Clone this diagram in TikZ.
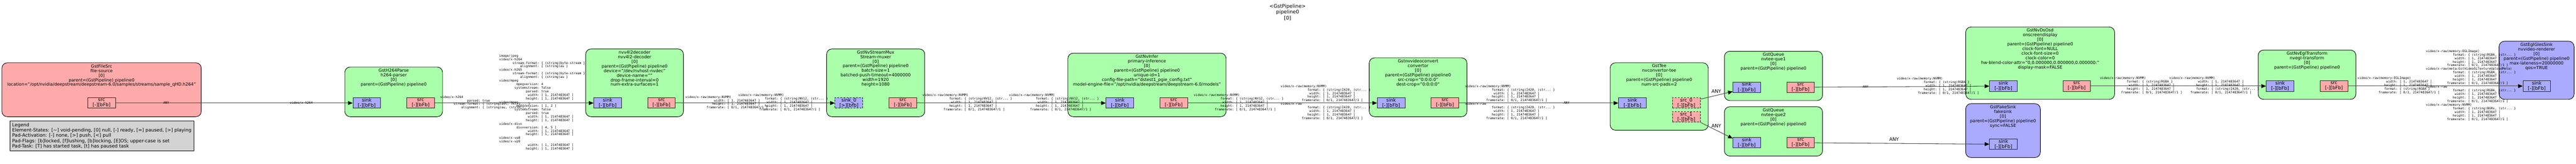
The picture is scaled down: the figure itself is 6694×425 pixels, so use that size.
\documentclass[tikz,border=0pt]{standalone}
\usepackage{fontspec}
\setmainfont{DejaVu Sans}
\setmonofont{DejaVu Sans Mono}
\usetikzlibrary{positioning,arrows.meta,calc}

\definecolor{elemgreen}{HTML}{AAFFAA}
\definecolor{elemred}{HTML}{FFAAAA}
\definecolor{elemblue}{HTML}{AAAAFF}
\definecolor{legendgrey}{HTML}{D3D3D3}

\newcommand\capk[2]{\hphantom{xxxxxxxxxxxxxxxxxxxx}\llap{#1}: #2}
\newcommand\capfmt[1]{\capk{format}{\{ (string)#1, (str... \}}}
\newcommand\capwh{\capk{width}{[ 1, 2147483647 ]}\\\capk{height}{[ 1, 2147483647 ]}}
\newcommand\capfr{\capk{framerate}{[ 0/1, 2147483647/1 ]}}
\newcommand\nvmm{video/x-raw(memory:NVMM)}

\begin{document}
\begin{tikzpicture}[x=1pt,y=-1pt,
  elem/.style={draw, line width=1.2pt, rounded corners=14pt, fill=elemgreen},
  elemtitle/.style={align=center, inner sep=0pt, font=\fontsize{11.1}{12}\selectfont},
  padbox/.style={draw=black!85, line width=1.2pt, minimum width=72pt, minimum height=27pt, inner sep=0pt, align=center, font=\fontsize{12.3}{13.6}\selectfont},
  sinkpad/.style={padbox, fill=elemblue},
  srcpad/.style={padbox, fill=elemred},
  reqpad/.style={dash pattern=on 5pt off 3pt},
  link/.style={draw=black!70, line width=1.4pt, -{Triangle[length=12pt,width=10pt,color=black]}},
  capstext/.style={anchor=north west, align=left, inner sep=0pt, font=\ttfamily\fontsize{8.25}{9.3}\selectfont},
  capsany/.style={inner sep=0pt, font=\ttfamily\fontsize{8.25}{9.3}\selectfont},
  linkany/.style={inner sep=0pt, font=\fontsize{12.3}{14}\selectfont}]
\useasboundingbox (0,0) rectangle (6694,425);

\node[align=center, inner sep=0pt, font=\fontsize{13}{15}\selectfont] (pipe) at (3346,32) {<GstPipeline>\\pipeline0\\{}[0]};

\node[elem, fill=elemred, minimum width=518pt, minimum height=140pt] (e1) at (264,233) {};
\node[elemtitle, below=4.5pt of e1.north] (e1t) {GstFileSrc\\file-source\\{}[0]\\parent=(GstPipeline) pipeline0\\location="/opt/nvidia/deepstream/deepstream-6.0/samples/streams/sample\_qHD.h264"};
\node[srcpad] (e1src) at (264,267.5) {src\\{}[-][bFb]};

\node[draw, line width=1.2pt, fill=legendgrey, anchor=north west, minimum width=478pt, minimum height=78pt, inner sep=5pt, align=left, font=\fontsize{12.1}{13.7}\selectfont] (legend) at (25,313) {Legend\\Element-States: [\textasciitilde] void-pending, [0] null, [-] ready, [=] paused, [>] playing\\Pad-Activation: [-] none, [>] push, [<] pull\\Pad-Flags: [b]locked, [f]lushing, [b]locking, [E]OS; upper-case is set\\Pad-Task: [T] has started task, [t] has paused task};

\node[elem, minimum width=254pt, minimum height=129pt] (e2) at (1023,238.5) {};
\node[elemtitle, below=4.5pt of e2.north] (e2t) {GstH264Parse\\h264-parser\\{}[0]\\parent=(GstPipeline) pipeline0};
\node[sinkpad] (e2sink) at (953,267.5) {sink\\{}[-][bFb]};
\node[srcpad] (e2src) at (1093,267.5) {src\\{}[-][bFb]};

\node[elem, minimum width=254pt, minimum height=176pt] (e3) at (1649,215) {};
\node[elemtitle, below=4.5pt of e3.north] (e3t) {nvv4l2decoder\\nvv4l2-decoder\\{}[0]\\parent=(GstPipeline) pipeline0\\device="/dev/nvhost-nvdec"\\device-name=""\\drop-frame-interval=0\\num-extra-surfaces=1};
\node[sinkpad] (e3sink) at (1579,267.5) {sink\\{}[-][bFb]};
\node[srcpad] (e3src) at (1719,267.5) {src\\{}[-][bFb]};

\node[elem, minimum width=255pt, minimum height=176pt] (e4) at (2275.5,215) {};
\node[elemtitle, below=4.5pt of e4.north] (e4t) {GstNvStreamMux\\Stream-muxer\\{}[0]\\parent=(GstPipeline) pipeline0\\batch-size=1\\batched-push-timeout=4000000\\width=1920\\height=1080};
\node[sinkpad, reqpad] (e4sink) at (2206,267.5) {sink\_0\\{}[>][bfb]};
\node[srcpad] (e4src) at (2346,267.5) {src\\{}[-][bFb]};

\node[elem, minimum width=411pt, minimum height=165pt] (e5) at (2980.5,220.5) {};
\node[elemtitle, below=4.5pt of e5.north] (e5t) {GstNvInfer\\primary-inference\\{}[0]\\parent=(GstPipeline) pipeline0\\unique-id=1\\config-file-path="dstest1\_pgie\_config.txt"\\model-engine-file="/opt/nvidia/deepstream/deepstream-6.0/models"};
\node[sinkpad] (e5sink) at (2910,267.5) {sink\\{}[-][bFb]};
\node[srcpad] (e5src) at (3050,267.5) {src\\{}[-][bFb]};

\node[elem, minimum width=254pt, minimum height=153pt] (e6) at (3685,226.5) {};
\node[elemtitle, below=4.5pt of e6.north] (e6t) {Gstnvvideoconvert\\convertor\\{}[0]\\parent=(GstPipeline) pipeline0\\src-crop="0:0:0:0"\\dest-crop="0:0:0:0"};
\node[sinkpad] (e6sink) at (3615,267.5) {sink\\{}[-][bFb]};
\node[srcpad] (e6src) at (3755,267.5) {src\\{}[-][bFb]};

\node[elem, minimum width=255pt, minimum height=175pt] (e7) at (4311.5,250.5) {};
\node[elemtitle, below=4.5pt of e7.north] (e7t) {GstTee\\nvconvertor-tee\\{}[0]\\parent=(GstPipeline) pipeline0\\num-src-pads=2};
\node[sinkpad] (e7sink) at (4242,267.5) {sink\\{}[-][bFb]};
\node[srcpad, reqpad] (e7src0) at (4382,267.5) {src\_0\\{}[-][bFb]};
\node[srcpad, reqpad] (e7src1) at (4382,303.5) {src\_1\\{}[-][bFb]};

\node[elem, minimum width=255pt, minimum height=128pt] (e8) at (4608.5,197) {};
\node[elemtitle, below=4.5pt of e8.north] (e8t) {GstQueue\\nvtee-que1\\{}[0]\\parent=(GstPipeline) pipeline0};
\node[sinkpad] (e8sink) at (4539,226.5) {sink\\{}[-][bFb]};
\node[srcpad] (e8src) at (4679,226.5) {src\\{}[-][bFb]};

\node[elem, minimum width=255pt, minimum height=128pt] (e9) at (4608.5,341) {};
\node[elemtitle, below=4.5pt of e9.north] (e9t) {GstQueue\\nvtee-que2\\{}[0]\\parent=(GstPipeline) pipeline0};
\node[sinkpad] (e9sink) at (4539,370.5) {sink\\{}[-][bFb]};
\node[srcpad] (e9src) at (4679,370.5) {src\\{}[-][bFb]};

\node[elem, minimum width=387pt, minimum height=188pt] (e10) at (5301.5,164) {};
\node[elemtitle, below=4.5pt of e10.north] (e10t) {GstNvDsOsd\\onscreendisplay\\{}[0]\\parent=(GstPipeline) pipeline0\\clock-font=NULL\\clock-font-size=0\\clock-color=0\\hw-blend-color-attr="0,0.000000,0.000000,0.000000:"\\display-mask=FALSE};
\node[sinkpad] (e10sink) at (5206,223.5) {sink\\{}[-][bFb]};
\node[srcpad] (e10src) at (5396.5,223.5) {src\\{}[-][bFb]};

\node[elem, fill=elemblue, minimum width=194pt, minimum height=140pt] (e11) at (5205,339) {};
\node[elemtitle, below=4.5pt of e11.north] (e11t) {GstFakeSink\\fakesink\\{}[0]\\parent=(GstPipeline) pipeline0\\sync=FALSE};
\node[sinkpad] (e11sink) at (5206,374.5) {sink\\{}[-][bFb]};

\node[elem, minimum width=254pt, minimum height=128pt] (e12) at (5995,194) {};
\node[elemtitle, below=4.5pt of e12.north] (e12t) {GstNvEglTransform\\nvegl-transform\\{}[0]\\parent=(GstPipeline) pipeline0};
\node[sinkpad] (e12sink) at (5925,223.5) {sink\\{}[-][bFb]};
\node[srcpad] (e12src) at (6065,223.5) {src\\{}[-][bFb]};

\node[elem, fill=elemblue, minimum width=195pt, minimum height=151pt] (e13) at (6591.5,182.5) {};
\node[elemtitle, below=4.5pt of e13.north] (e13t) {GstEglGlesSink\\nvvideo-renderer\\{}[0]\\parent=(GstPipeline) pipeline0\\max-lateness=20000000\\qos=TRUE};
\node[sinkpad] (e13sink) at (6592,223.5) {sink\\{}[-][bFb]};

\path[link] (e1src) -- (e2sink);
\path[link] (e2src) -- (e3sink);
\path[link] (e3src) -- (e4sink);
\path[link] (e4src) -- (e5sink);
\path[link] (e5src) -- (e6sink);
\path[link] (e6src) -- (e7sink);
\path[link] ($(e7src0.north east)+(0,4)$) -- ($(e8sink.south west)+(0,-3)$);
\path[link] (e7src1.south east) -- ($(e9sink.north west)+(0,3)$);
\path[link] (e8src) -- (e10sink);
\path[link] (e9src) -- (e11sink);
\path[link] (e10src) -- (e12sink);
\path[link] (e12src) -- (e13sink);

\node[capsany] (l1a) at (432,267) {ANY};
\node[capsany] (l1b) at (783,267) {video/x-h264};
\node[capstext] (l2a) at (1144,248) {video/x-h264\\\capk{parsed}{true}\\\capk{stream-format}{\{ (string)avc, (stri... \}}\\\capk{alignment}{\{ (string)au, (strin... \}}};
\node[capstext] (l2b) at (1297,141) {image/jpeg\\video/x-h264\\\capk{stream-format}{\{ (string)byte-stream \}}\\\capk{alignment}{\{ (string)au \}}\\video/x-h265\\\capk{stream-format}{\{ (string)byte-stream \}}\\\capk{alignment}{\{ (string)au \}}\\video/mpeg\\\capk{mpegversion}{4}\\\capk{systemstream}{false}\\\capk{parsed}{true}\\\capwh\\video/mpeg\\\capk{mpegversion}{[ 1, 2 ]}\\\capk{systemstream}{false}\\\capk{parsed}{true}\\\capwh\\video/x-divx\\\capk{divxversion}{[ 4, 5 ]}\\\capwh\\video/x-vp8\\video/x-vp9\\\capwh};
\node[capstext] (l3a) at (1781,248) {\nvmm\\\capwh\\\capfr};
\node[capstext] (l3b) at (1918,243) {\nvmm\\\capfmt{NV12}\\\capwh\\\capfr};
\node[capstext] (l4a) at (2397,243) {\nvmm\\\capfmt{NV12}\\\capwh\\\capfr};
\node[capstext] (l4b) at (2622,243) {\nvmm\\\capfmt{NV12}\\\capwh\\\capfr};
\node[capstext] (l5a) at (3102,243) {\nvmm\\\capfmt{NV12}\\\capwh\\\capfr};
\node[capstext] (l5b) at (3328,220) {\nvmm\\\capfmt{I420}\\\capwh\\\capfr\\video/x-raw\\\capfmt{I420}\\\capwh\\\capfr};
\node[capstext] (l6a) at (3807,220) {\nvmm\\\capfmt{I420}\\\capwh\\\capfr\\video/x-raw\\\capfmt{I420}\\\capwh\\\capfr};
\node[capsany] (l6b) at (4071,267) {ANY};
\node[linkany] (l7) at (4460,237) {ANY};
\node[linkany] (l8) at (4460,327) {ANY};
\node[capsany] (l9a) at (4848,225) {ANY};
\node[capstext] (l9b) at (4929,200) {\nvmm\\\capk{format}{\{ (string)RGBA \}}\\\capwh\\\capfr};
\node[linkany] (l10) at (4922,362) {ANY};
\node[capstext] (l11a) at (5457,199) {\nvmm\\\capk{format}{\{ (string)RGBA \}}\\\capwh\\\capfr};
\node[capstext] (l11b) at (5637,199) {\nvmm\\\capwh\\\capfmt{I420}\\\capfr};
\node[capstext] (l12a) at (6126,199) {video/x-raw(memory:EGLImage)\\\capwh\\\capk{format}{\{ (string)RGBA \}}\\\capfr};
\node[capstext] (l12b) at (6304,129) {video/x-raw(memory:EGLImage)\\\capfmt{RGBA}\\\capwh\\\capfr\\video/x-raw(meta:GstVideoGLTextureUploadMeta)\\\capfmt{RGBA}\\\capwh\\\capfr\\video/x-raw\\\capfmt{RGBA}\\\capwh\\\capfr\\\nvmm\\\capfmt{BGRx}\\\capwh\\\capfr};
\end{tikzpicture}
\end{document}
